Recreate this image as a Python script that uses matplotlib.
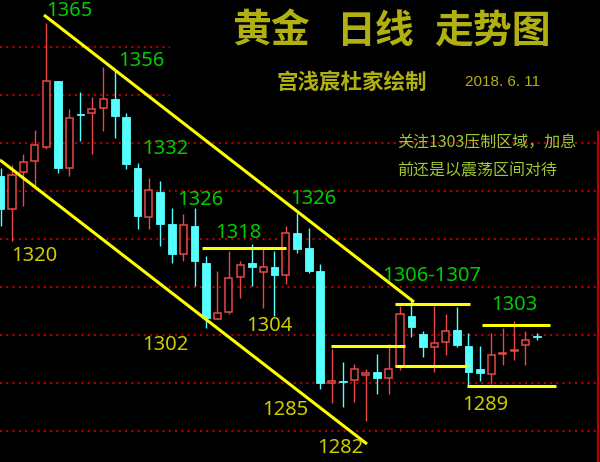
import matplotlib
matplotlib.use('Agg')
import matplotlib.pyplot as plt
from matplotlib.patches import Rectangle

# ---------------- data ----------------
opens  = [1333.1, 1326.2, 1334.0, 1336.3, 1339.2, 1352.9, 1334.8, 1346.0, 1346.3, 1347.3,
          1349.2, 1345.4, 1334.8, 1324.6, 1329.8, 1323.1, 1316.9, 1322.7, 1315.0, 1303.3,
          1304.8, 1312.1, 1315.0, 1313.1, 1314.2, 1312.5, 1321.3, 1318.1, 1313.3, 1290.0,
          1290.4, 1290.6, 1291.7, 1292.3, 1291.0, 1293.5, 1304.0, 1300.2, 1297.5, 1298.5,
          1301.0, 1297.7, 1292.9, 1291.9, 1296.0, 1296.7, 1297.9, 1299.6]
highs  = [1334.8, 1335.4, 1337.7, 1342.7, 1365.0, 1352.9, 1347.1, 1350.6, 1349.6, 1355.8,
          1355.0, 1346.3, 1335.8, 1332.7, 1332.1, 1326.5, 1325.2, 1326.5, 1316.5, 1313.3,
          1317.5, 1315.4, 1319.0, 1317.9, 1317.5, 1322.7, 1325.4, 1322.3, 1314.8, 1297.1,
          1294.4, 1294.0, 1292.9, 1296.0, 1298.1, 1306.0, 1307.7, 1300.8, 1306.0, 1304.4,
          1305.8, 1300.4, 1297.7, 1300.4, 1301.5, 1303.0, 1300.8, 1300.4]
lows   = [1322.7, 1319.6, 1326.9, 1330.6, 1338.8, 1333.8, 1333.1, 1340.4, 1337.7, 1342.5,
          1341.0, 1334.6, 1322.1, 1322.1, 1318.5, 1315.0, 1315.4, 1310.2, 1301.5, 1303.3,
          1304.4, 1307.7, 1310.2, 1305.6, 1304.0, 1310.6, 1317.1, 1312.9, 1288.8, 1285.8,
          1285.0, 1286.0, 1282.1, 1287.7, 1287.7, 1292.7, 1299.6, 1295.4, 1292.3, 1295.8,
          1297.5, 1289.4, 1290.4, 1289.8, 1293.8, 1294.8, 1293.8, 1298.9]
closes = [1326.2, 1333.3, 1336.0, 1339.6, 1352.9, 1334.8, 1345.2, 1345.8, 1347.1, 1349.2,
          1345.6, 1335.6, 1324.8, 1330.2, 1323.1, 1316.9, 1322.9, 1315.4, 1303.5, 1304.6,
          1311.9, 1314.6, 1314.2, 1314.2, 1312.5, 1321.3, 1317.9, 1313.3, 1290.0, 1290.4,
          1290.2, 1292.9, 1292.1, 1291.0, 1292.9, 1304.4, 1301.7, 1297.5, 1298.3, 1300.8,
          1297.9, 1292.3, 1292.1, 1295.8, 1296.2, 1296.9, 1298.9, 1299.6]

grid_levels = [1280, 1290, 1300, 1310, 1320, 1330, 1340, 1350, 1360]

# trend channel lines (bar index, price)
upper_trend_x = [3.80, 36.23]
upper_trend_y = [1366.67, 1306.87]
lower_trend_x = [-0.05, 32.11]
lower_trend_y = [1336.46, 1277.29]

# horizontal levels: start index, end index, price
hline_start = [17.65, 28.96, 34.57, 34.57, 42.19, 40.88]
hline_end   = [25.01, 35.44, 41.14, 40.96, 48.15, 48.68]
hline_price = [1318.2, 1297.7, 1306.5, 1293.5, 1302.1, 1289.4]

green_labels  = ['1365', '1356', '1332', '1326', '1326', '1318', '1306-1307', '1303']
yellow_labels = ['1320', '1302', '1304', '1285', '1282', '1289']

title_words = ['黄金', '日线', '走势图']
subtitle = '宫浅宸杜家绘制'
date_text = '2018. 6. 11'
note_lines = ['关注1303压制区域，加息', '前还是以震荡区间对待']

# ---------------- layout ----------------
W, H = 600, 462
fig = plt.figure(figsize=(W / 100, H / 100), dpi=100)
fig.patch.set_facecolor('black')
ax = fig.add_axes([0, 0, 1, 1])
ax.set_facecolor('black')
ax.set_xlim(-0.0526, 52.53)
ax.set_ylim(1273.54, 1369.79)
ax.axis('off')

def fp(x, y):
    return x / W, 1 - y / H

RED = '#e84848'
CYAN = '#55ffff'
YEL = '#ffff00'
GREEN = '#00cc00'
OLIVE = '#cccc00'

for lv in grid_levels:
    ax.axhline(lv, color='#b00000', lw=1.5, linestyle=(0, (1, 2)),
               dash_capstyle='butt', zorder=0.5)

# black panel behind the title (hides grid there), below candles and lines
ax.add_patch(Rectangle(fp(170, 130), 430 / W, 130 / H, transform=fig.transFigure,
                       facecolor='black', edgecolor='none', zorder=1, clip_on=False))
# red right border
ax.plot([fp(598, 0)[0]] * 2, [fp(0, 132)[1], 0], transform=fig.transFigure,
        color='#c00000', lw=1.6, zorder=1.5, clip_on=False)

for i, (o, h, l, c) in enumerate(zip(opens, highs, lows, closes)):
    up = c > o
    col = RED if up else CYAN
    ax.vlines(i, l, h, color=col, lw=1.0, zorder=2)
    bottom = min(o, c)
    height = max(abs(c - o), 0.15)
    if up:
        ax.add_patch(Rectangle((i - 0.31, bottom), 0.62, height, facecolor='black',
                               edgecolor=col, lw=1.1, zorder=3))
    else:
        ax.add_patch(Rectangle((i - 0.34, bottom), 0.68, height, facecolor=col,
                               edgecolor=col, lw=0.6, zorder=3))

ax.plot(upper_trend_x, upper_trend_y, color=YEL, lw=2.2, zorder=4, solid_capstyle='butt')
ax.plot(lower_trend_x, lower_trend_y, color=YEL, lw=2.2, zorder=4, solid_capstyle='butt')
for s, e, p in zip(hline_start, hline_end, hline_price):
    ax.plot([s, e], [p, p], color=YEL, lw=2.2, zorder=4, solid_capstyle='butt')

num_font = dict(family='Noto Sans', fontsize=14.5)
green_pos = [(47, 11), (119, 61), (143, 149), (178, 200), (291, 199), (216, 233),
             (383, 276), (492, 305)]
for t, (x, y) in zip(green_labels, green_pos):
    fig.text(*fp(x - 1, y), t, color=GREEN, ha='left', va='center', zorder=5, **num_font)
yellow_pos = [(12, 256), (143, 345), (247, 326), (263, 410), (318, 448), (463, 405)]
for t, (x, y) in zip(yellow_labels, yellow_pos):
    fig.text(*fp(x - 1, y), t, color=OLIVE, ha='left', va='center', zorder=5, **num_font)

TITLE_C = '#b0b010'
cjk = ['Noto Sans CJK SC', 'DejaVu Sans']
for t, x in zip(title_words, [271, 375, 493]):
    fig.text(*fp(x, 31), t, color=TITLE_C, ha='center', va='center', family=cjk,
             fontsize=28, fontweight='bold', zorder=5)
fig.text(*fp(352, 82), subtitle, color=TITLE_C, ha='center', va='center', family=cjk,
         fontsize=15.5, fontweight='bold', zorder=5)
fig.text(*fp(503, 82), date_text, color=TITLE_C, ha='center', va='center',
         family='Liberation Sans', fontsize=11, zorder=5)

NOTE_C = '#a0c832'
for t, y in zip(note_lines, [143, 171]):
    fig.text(*fp(397, y), t, color=NOTE_C, ha='left', va='center', family=cjk,
             fontsize=11.5, zorder=5)

fig.savefig('out.png', dpi=100, facecolor='black')
